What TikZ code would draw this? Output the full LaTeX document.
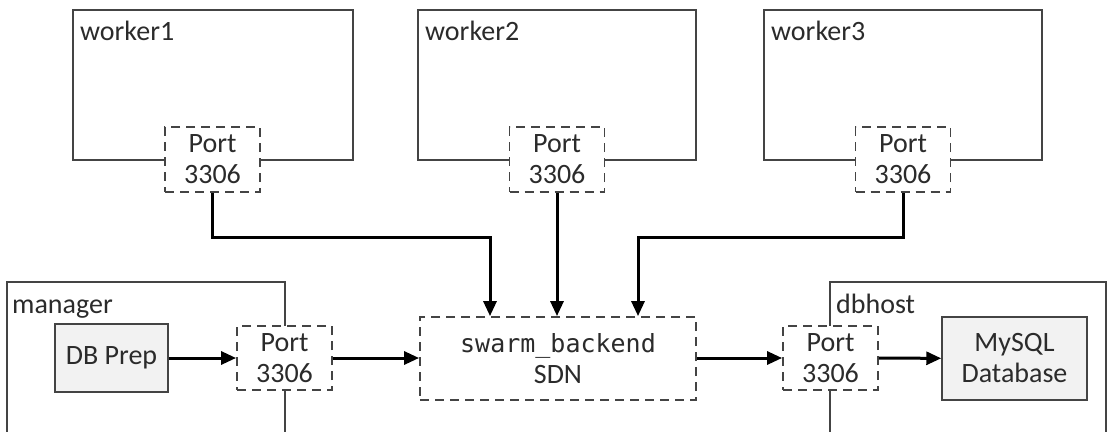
\documentclass[tikz,border=0pt]{standalone}
\usepackage{fontspec}
\setmainfont{Carlito}
\newfontfamily\codefont{DejaVu Sans Mono}
\usetikzlibrary{arrows.meta}
\definecolor{edgegray}{HTML}{444444}
\definecolor{boxgray}{HTML}{F2F2F2}
\definecolor{inkgray}{HTML}{2B2B2B}
\tikzset{
	hostbox/.style={draw=edgegray, line width=1.5pt},
	portbox/.style={draw=edgegray, fill=white, line width=1.8pt, dash pattern=on 9pt off 6pt,
		minimum width=95pt, minimum height=65pt, inner sep=0pt, align=center},
	procbox/.style={draw=edgegray, fill=boxgray, line width=1.5pt, inner sep=0pt, align=center},
	flow/.style={line width=3pt, -{Triangle[length=15pt,width=13pt]}},
	hostname/.style={anchor=base west, inner sep=0pt}
}
\begin{document}
\begin{tikzpicture}[x=1pt, y=-1pt, font=\fontsize{28}{31}\selectfont, text=inkgray]
		\useasboundingbox (0,0) rectangle (1107,431);
		% worker hosts
		\draw[hostbox] (73,10) rectangle (353,160);
		\draw[hostbox] (418,10) rectangle (696,160);
		\draw[hostbox] (764,10) rectangle (1042,160);
		\node[hostname] at (80,40) {worker1};
		\node[hostname] at (425,40) {worker2};
		\node[hostname] at (771,40) {worker3};
		% manager and dbhost
		\draw[hostbox] (7,440) |- (285,282) -- (285,440);
		\draw[hostbox] (830,440) |- (1106,282) -- (1106,440);
		\node[hostname] at (12,313) {manager};
		\node[hostname] at (836,313) {dbhost};
		% ports
		\node[portbox] (port1) at (212.5,159.5) {Port\\3306};
		\node[portbox] (port2) at (557,159.5) {Port\\3306};
		\node[portbox] (port3) at (903,159.5) {Port\\3306};
		\node[portbox, minimum height=64pt] (mport) at (284.5,358) {Port\\3306};
		\node[portbox, minimum height=64pt] (dport) at (830.5,358) {Port\\3306};
		% overlay network
		\node[portbox, minimum width=276pt, minimum height=83pt] (sdn) at (558,358.5)
			{{\codefont\fontsize{25}{31}\selectfont swarm\_backend}\\SDN};
		% containers
		\node[procbox, minimum width=113pt, minimum height=68pt] (prep) at (111.5,358) {DB Prep};
		\node[procbox, minimum width=145pt, minimum height=83pt] (mysql) at (1014.5,358.5) {MySQL\\Database};
		% flows
		\coordinate (j1) at (212.5,237);
		\coordinate (j3) at (903,237);
		\draw[flow] (port1.south) -- (j1) -| ([xshift=-68pt]sdn.north);
		\draw[flow] (port2.south) -- (port2.south |- sdn.north);
		\draw[flow] (port3.south) -- (j3) -| ([xshift=80pt]sdn.north);
		\draw[flow] (prep) -- (mport);
		\draw[flow] (mport) -- (mport -| sdn.west);
		\draw[flow] (sdn.east |- dport) -- (dport);
		\draw[flow] (dport) -- (mysql);
	\end{tikzpicture}
\end{document}
